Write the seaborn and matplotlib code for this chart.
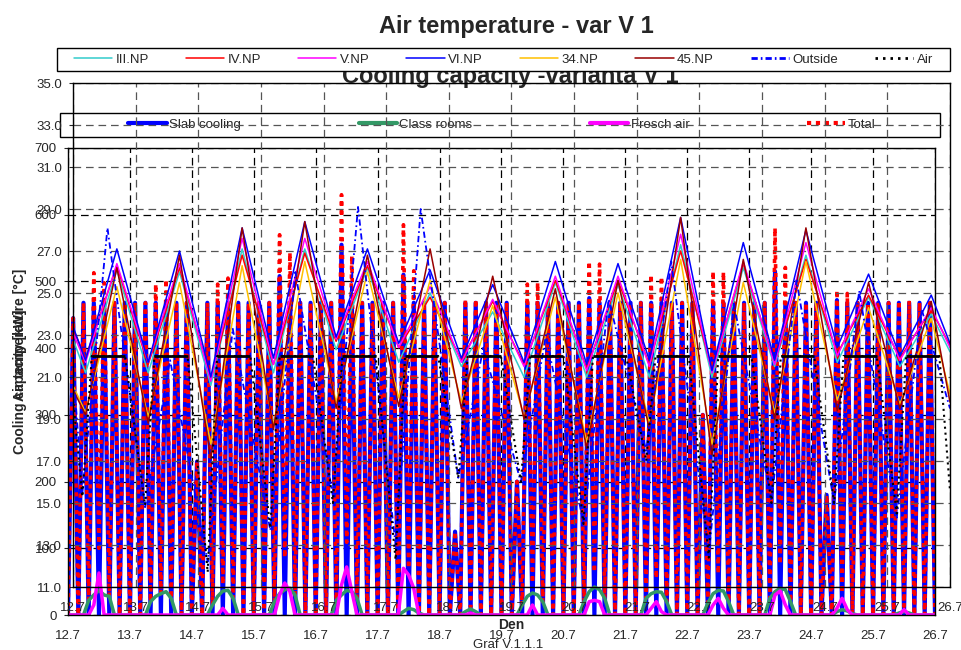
import numpy as np
import matplotlib
matplotlib.use('Agg')
import matplotlib.pyplot as plt
from matplotlib.lines import Line2D
from matplotlib.patches import Rectangle
import seaborn as sns

# ─────────────────────────────────────────
# Data
# ─────────────────────────────────────────
day_labels = ['12.7', '13.7', '14.7', '15.7', '16.7', '17.7', '18.7', '19.7',
              '20.7', '21.7', '22.7', '23.7', '24.7', '25.7', '26.7']

# floor temperatures [°C]: early-morning minimum and afternoon maximum per day
III_MIN = [21.2, 21.2, 20.6, 21.2, 22.3, 21.7, 21.5, 21.0, 21.0, 21.0, 21.0, 21.5, 21.7, 21.5]
III_MAX = [26.1, 26.0, 27.1, 27.1, 26.2, 25.0, 24.1, 25.5, 25.4, 27.3, 26.2, 26.8, 24.8, 24.0]
III_EDGE = [22.8, 22.2]

IV_MIN = [21.9, 21.6, 20.9, 21.6, 22.7, 22.4, 21.8, 21.6, 21.4, 21.6, 21.3, 21.7, 22.1, 21.9]
IV_MAX = [26.3, 26.2, 26.8, 26.9, 26.3, 24.8, 24.6, 25.6, 25.6, 27.0, 26.4, 26.6, 24.9, 24.2]
IV_EDGE = [23.3, 22.5]

V_MIN = [21.7, 21.7, 20.8, 21.6, 22.8, 22.4, 21.7, 21.5, 21.3, 21.5, 21.2, 21.6, 22.0, 21.8]
V_MAX = [26.4, 26.4, 27.6, 27.6, 26.5, 25.3, 24.7, 25.8, 25.8, 27.8, 26.5, 27.4, 25.2, 24.3]
V_EDGE = [23.1, 22.4]

VI_MIN = [21.8, 21.7, 21.0, 21.9, 22.9, 22.6, 21.9, 21.7, 21.6, 21.8, 21.3, 21.8, 22.4, 22.0]
VI_MAX = [27.1, 27.0, 28.1, 28.4, 27.1, 26.1, 25.4, 26.5, 26.4, 28.6, 27.4, 28.0, 25.9, 24.9]
VI_EDGE = [23.4, 22.6]

NP34_MIN = [19.3, 19.1, 17.8, 18.7, 19.8, 20.0, 19.8, 19.1, 17.9, 18.8, 17.8, 19.3, 19.9, 19.7]
NP34_MAX = [25.3, 25.5, 26.3, 26.5, 26.0, 25.6, 24.4, 24.8, 25.0, 26.6, 25.5, 26.5, 24.3, 23.8]
NP34_EDGE = [20.6, 20.2]

NP45_MIN = [19.2, 18.8, 17.1, 18.5, 19.5, 19.6, 19.5, 19.0, 17.6, 18.5, 17.3, 19.0, 19.4, 19.5]
NP45_MAX = [26.2, 26.8, 28.1, 28.4, 26.8, 27.1, 25.8, 25.2, 25.6, 28.6, 26.6, 28.1, 25.5, 24.6]
NP45_EDGE = [20.4, 19.8]

OUT_MIN = [15.5, 14.8, 12.2, 13.7, 15.3, 13.0, 16.2, 16.0, 14.0, 17.5, 12.6, 15.1, 15.0, 14.3]
OUT_MAX = [28.1, 21.8, 23.3, 26.0, 29.1, 29.0, 22.4, 23.0, 24.7, 26.5, 24.5, 25.6, 25.1, 24.2]
OUT_EDGE = [21.5, 19.5]

# supply air: night minimum, held at the set point during the day
AIR_MIN = [15.3, 14.9, 11.7, 13.8, 15.0, 12.3, 16.2, 16.0, 14.0, 17.0, 12.4, 15.0, 15.0, 14.5]
AIR_DAY = 22.0
AIR_EDGE = [20.0, 15.6]

# cooling capacity [kW]
# slab cooling pulses at 2, 6, 10, 14, 18, 22 h
SLAB = [[445, 468, 468, 468, 468, 468],
        [468, 468, 468, 468, 468, 468],
        [230, 468, 468, 468, 468, 468],
        [468, 468, 508, 468, 468, 468],
        [468, 468, 555, 468, 468, 468],
        [468, 468, 510, 468, 468, 468],
        [468, 125, 468, 468, 468, 468],
        [468, 200, 468, 468, 468, 468],
        [468, 468, 475, 468, 468, 468],
        [468, 468, 468, 468, 468, 468],
        [468, 300, 468, 468, 468, 468],
        [468, 468, 515, 468, 468, 468],
        [468, 180, 472, 468, 468, 468],
        [468, 468, 468, 468, 468, 468]]
# class rooms at 8, 10, 12, 14, 16 h
CLASS = [[22, 30, 37, 30, 28], [20, 28, 32, 35, 25], [15, 28, 36, 37, 25],
         [20, 32, 38, 40, 30], [22, 30, 37, 35, 25], [0, 5, 10, 8, 3],
         [0, 5, 9, 5, 0], [15, 28, 33, 30, 20], [20, 35, 42, 38, 25],
         [25, 32, 35, 34, 20], [18, 32, 37, 36, 20], [25, 35, 40, 38, 20],
         [0, 5, 8, 6, 2], [0, 3, 5, 3, 0]]
# fresh air at 10, 12, 14 h
FRESH = [[15, 63, 0], [0, 0, 0], [0, 10, 0], [30, 48, 35], [45, 72, 35],
         [70, 60, 40], [0, 3, 0], [0, 15, 0], [20, 22, 20], [10, 20, 5],
         [15, 25, 10], [30, 36, 15], [10, 25, 8], [0, 8, 0]]

n_days = len(day_labels) - 1


def daily_curve(edge, lows, highs, t_low, t_high):
    t, v = [0.0], [edge[0]]
    for d, (lo, hi) in enumerate(zip(lows, highs)):
        t += [d + t_low, d + t_high]
        v += [lo, hi]
    t.append(n_days)
    v.append(edge[1])
    return t, v


air_t, air_v = [0.0], [AIR_EDGE[0]]
for d, lo in enumerate(AIR_MIN):
    air_t += [d + 0.15, d + 0.30, d + 0.83]
    air_v += [lo, AIR_DAY, AIR_DAY]
air_t.append(n_days)
air_v.append(AIR_EDGE[1])

hours = np.arange(0, 24, 2)
t_b, slab, cls, fresh = [], [], [], []
for d in range(n_days):
    s = np.zeros(12); s[1::2] = SLAB[d]
    c = np.zeros(12); c[4:9] = CLASS[d]
    f = np.zeros(12); f[5:8] = FRESH[d]
    t_b += list(d + hours / 24)
    slab += list(s); cls += list(c); fresh += list(f)
t_b.append(n_days); slab.append(0); cls.append(0); fresh.append(0)
slab, cls, fresh = np.array(slab), np.array(cls), np.array(fresh)
total = slab + cls + fresh

# ─────────────────────────────────────────
# Style
# ─────────────────────────────────────────
sns.set_style('ticks')
plt.rcParams['font.family'] = ['Liberation Sans', 'DejaVu Sans']
plt.rcParams['lines.scale_dashes'] = False
plt.rcParams['axes.edgecolor'] = 'black'
plt.rcParams['axes.linewidth'] = 1.0

W, H = 962, 650


def px_rect(x0, y0, x1, y1):
    return [x0 / W, 1 - y1 / H, (x1 - x0) / W, (y1 - y0) / H]


fig = plt.figure(figsize=(9.62, 6.5), dpi=100)
fig.patch.set_facecolor('white')

total_ls = (0, (3.0, 3.4))

# ── Chart B: cooling capacity (behind) ──
axB = fig.add_axes(px_rect(68, 148, 935, 615))
axB.set_facecolor('white')
sns.lineplot(x=t_b, y=slab, ax=axB, color='#0000FF', lw=3.0, estimator=None, sort=False)
sns.lineplot(x=t_b, y=total, ax=axB, color='#FF0000', lw=2.6, ls=total_ls,
             estimator=None, sort=False)
sns.lineplot(x=t_b, y=cls, ax=axB, color='#339966', lw=2.5, estimator=None, sort=False)
sns.lineplot(x=t_b, y=fresh, ax=axB, color='#FF00FF', lw=2.5, estimator=None, sort=False)
axB.set_xlim(0, n_days)
axB.set_ylim(0, 700)
axB.set_yticks(range(0, 701, 100))
axB.set_xticks(range(len(day_labels)))
axB.set_xticklabels(day_labels)
axB.grid(True, color='black', lw=0.9, ls=(0, (5.5, 3.5)))
axB.tick_params(axis='y', labelsize=9.5, length=3, pad=5, direction='out')
axB.tick_params(axis='x', labelsize=9.5, length=0, pad=11)
axB.set_ylabel('Cooling capacity [kW]', fontsize=10, fontweight='bold')
axB.yaxis.set_label_coords((27 - 68) / 867, 0.5)
axB.set_xlabel('')
for sp in axB.spines.values():
    sp.set_visible(True)
    sp.set_color('black')

axB.text(510 / W, 1 - 83 / H, 'Cooling capacity -varianta V 1', transform=fig.transFigure,
         ha='center', va='baseline', fontsize=17, fontweight='bold', clip_on=False)

b_handles = [Line2D([], [], color='#0000FF', lw=3),
             Line2D([], [], color='#339966', lw=3),
             Line2D([], [], color='#FF00FF', lw=3),
             Line2D([], [], color='#FF0000', lw=3, ls=total_ls)]
b_labels = ['Slab cooling', 'Class rooms', 'Fresch air', 'Total']
legB = axB.legend(b_handles, b_labels, loc='center', bbox_to_anchor=(502 / W, 1 - 125 / H),
                  bbox_transform=fig.transFigure, ncol=4, frameon=False, fontsize=9.5,
                  handlelength=2.9, handletextpad=0.2, columnspacing=8.9)
boxB = Rectangle((60 / W, 1 - 137 / H), 880 / W, 24 / H, transform=fig.transFigure,
                 fill=False, ec='black', lw=1.0, clip_on=False)
axB.add_artist(boxB)

# ── Chart A: air temperature (on top, transparent) ──
axA = fig.add_axes(px_rect(73, 83, 950, 587))
axA.patch.set_alpha(0)

series = [
    ('III.NP', III_EDGE, III_MIN, III_MAX, '#33CCCC'),
    ('IV.NP', IV_EDGE, IV_MIN, IV_MAX, '#FF0000'),
    ('V.NP', V_EDGE, V_MIN, V_MAX, '#FF00FF'),
    ('VI.NP', VI_EDGE, VI_MIN, VI_MAX, '#0000FF'),
    ('34.NP', NP34_EDGE, NP34_MIN, NP34_MAX, '#FFC000'),
    ('45.NP', NP45_EDGE, NP45_MIN, NP45_MAX, '#990000'),
]
a_handles, a_labels = [], []
for name, edge, lows, highs, col in series:
    t, v = daily_curve(edge, lows, highs, 0.2, 0.7)
    sns.lineplot(x=t, y=v, ax=axA, color=col, lw=1.1, estimator=None, sort=False)
    a_handles.append(Line2D([], [], color=col, lw=1.1))
    a_labels.append(name)

out_ls = (0, (4.5, 2.2, 1.2, 2.2))
t, v = daily_curve(OUT_EDGE, OUT_MIN, OUT_MAX, 0.15, 0.55)
sns.lineplot(x=t, y=v, ax=axA, color='#0000FF', lw=1.3, ls=out_ls, estimator=None, sort=False)
a_handles.append(Line2D([], [], color='#0000FF', lw=2, ls=out_ls))
a_labels.append('Outside')

air_ls = (0, (1.5, 2.8))
sns.lineplot(x=air_t, y=air_v, ax=axA, color='black', lw=1.5, ls=air_ls, estimator=None, sort=False)
a_handles.append(Line2D([], [], color='black', lw=2, ls=(0, (1.8, 3.6))))
a_labels.append('Air')

# set-point segments during operating hours
axA.hlines([AIR_DAY] * n_days, [d + 0.30 for d in range(n_days)],
           [d + 0.83 for d in range(n_days)], color='black', lw=2)

axA.set_xlim(0, n_days)
axA.set_ylim(11, 35)
axA.set_yticks(range(11, 36, 2))
axA.set_yticklabels([f'{v:.1f}' for v in range(11, 36, 2)])
axA.set_xticks(range(len(day_labels)))
axA.set_xticklabels(day_labels)
axA.grid(True, color='#555555', lw=0.9, ls=(0, (5.5, 3.5)))
axA.tick_params(axis='y', labelsize=9.5, length=3, pad=5, direction='out')
axA.tick_params(axis='x', labelsize=9.5, length=0, pad=11)
axA.set_ylabel('Air temperature [°C]', fontsize=10, fontweight='bold')
axA.yaxis.set_label_coords((27 - 73) / 877, 0.5)
axA.set_xlabel('Den', fontsize=10, fontweight='bold')
axA.xaxis.set_label_coords(0.5, -(618 - 587) / 504)
for sp in axA.spines.values():
    sp.set_visible(True)
    sp.set_color('black')

# legend box of chart A: white, covers the title of chart B
boxA = Rectangle((57 / W, 1 - 71 / H), 893 / W, 23 / H, transform=fig.transFigure,
                 fc='white', ec='black', lw=1.0, clip_on=False, zorder=4.5)
axA.add_artist(boxA)
legA = axA.legend(a_handles, a_labels, loc='center left',
                  bbox_to_anchor=(70 / W, 1 - 71 / H, 867 / W, 23 / H),
                  bbox_transform=fig.transFigure, mode='expand', ncol=8,
                  borderaxespad=0, frameon=False, fontsize=9.5, handlelength=2.9,
                  handletextpad=0.25, borderpad=0.3)
legA.set_zorder(5)

fig.text(516 / W, 1 - 33 / H, 'Air temperature - var V 1', ha='center', va='baseline',
         fontsize=17, fontweight='bold')
fig.text(508 / W, 1 - 645 / H, 'Graf V.1.1.1', ha='center', va='center', fontsize=9.5)

fig.savefig('out.png', dpi=100)
